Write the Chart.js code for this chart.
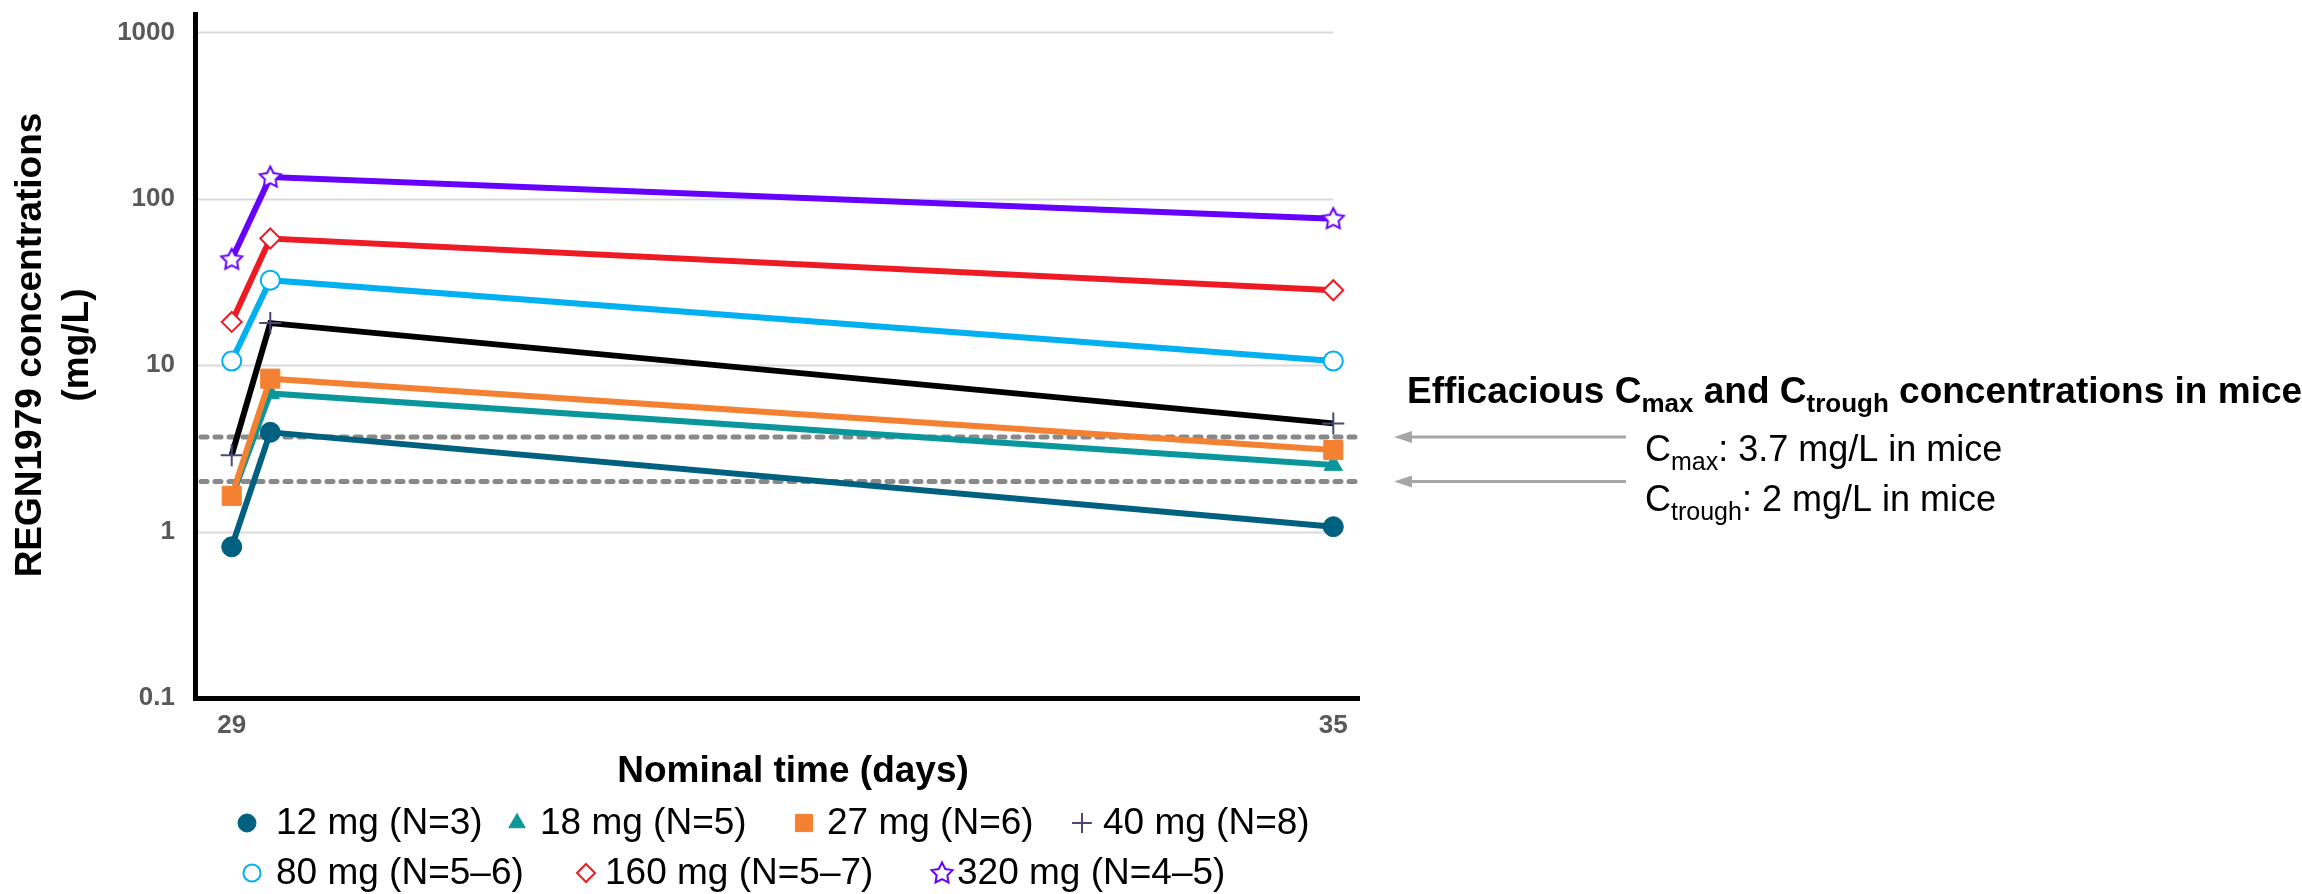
<!DOCTYPE html>
<html>
<head>
<meta charset="utf-8">
<title>REGN1979 concentrations</title>
<script src="https://cdn.jsdelivr.net/npm/chart.js@4.4.1/dist/chart.umd.min.js"></script>
<style>
  html, body { margin: 0; padding: 0; background: #fff; }
  canvas { display: block; }
</style>
</head>
<body>
<canvas id="pk-chart" width="2302" height="894"></canvas>
<script>
// Sampling days and axis ticks
const sampleDays = [29, 29.21, 35];
const dayTicks = [29, 35];
const concTicks = [0.1, 1, 10, 100, 1000];

// Mean concentrations (mg/L) per dose group
const doseLabels = ['12 mg (N=3)', '18 mg (N=5)', '27 mg (N=6)', '40 mg (N=8)',
                    '80 mg (N=5\u20136)', '160 mg (N=5\u20137)', '320 mg (N=4\u20135)'];
const conc12 = [0.81, 3.95, 1.07];
const conc18 = [1.6, 6.76, 2.51];
const conc27 = [1.64, 8.3, 3.09];
const conc40 = [2.88, 17.9, 4.47];
const conc80 = [10.6, 32.4, 10.6];
const conc160 = [18.2, 57.7, 28.2];
const conc320 = [43.3, 135, 76];

// Efficacious levels in mice (mg/L)
const cmaxMice = 3.7;
const ctroughMice = 2;

const FONT = '"Liberation Sans", Arial, Helvetica, sans-serif';

// open five-point star used for the 320 mg group
function makeStar(color) {
    const c = document.createElement('canvas');
    c.width = 28; c.height = 28;
    const g = c.getContext('2d');
    g.beginPath();
    for (let i = 0; i < 10; i++) {
        const r = i % 2 === 0 ? 11 : 5.6;
        const a = -Math.PI / 2 + i * Math.PI / 5;
        const px = 14 + r * Math.cos(a), py = 14.5 + r * Math.sin(a);
        i === 0 ? g.moveTo(px, py) : g.lineTo(px, py);
    }
    g.closePath();
    g.fillStyle = '#fff';
    g.fill();
    g.lineWidth = 2;
    g.strokeStyle = color;
    g.stroke();
    return c;
}

const toPoints = vals => sampleDays.map((d, i) => ({ x: d, y: vals[i] }));

const groups = [
    { data: conc12,  line: '#00607f', style: 'circle',   fill: '#00607f', edge: '#00607f', r: 10,   bw: 1, order: 1 },
    { data: conc18,  line: '#0a979c', style: 'triangle', fill: '#0a979c', edge: '#0a979c', r: 10.5, bw: 1, order: 3 },
    { data: conc27,  line: '#f48132', style: 'rect',     fill: '#f48132', edge: '#f48132', r: 13.5, bw: 1, order: 2 },
    { data: conc40,  line: '#000000', style: 'cross',    fill: '#4a4778', edge: '#4a4778', r: 11,   bw: 2, order: 4 },
    { data: conc80,  line: '#00b0f0', style: 'circle',   fill: '#ffffff', edge: '#00b0f0', r: 9.5,  bw: 2, order: 5 },
    { data: conc160, line: '#ed1c24', style: 'rectRot',  fill: '#ffffff', edge: '#ed1c24', r: 10,   bw: 2, order: 6 },
    { data: conc320, line: '#6600ff', style: makeStar('#6600ff'), fill: '#ffffff', edge: '#6600ff', r: 11, bw: 2, order: 7 }
];

const datasets = groups.map((g, i) => ({
    label: doseLabels[i],
    data: toPoints(g.data),
    borderColor: g.line,
    borderWidth: 6,
    pointStyle: g.style,
    pointRadius: g.r,
    pointBackgroundColor: g.fill,
    pointBorderColor: g.edge,
    pointBorderWidth: g.bw,
    tension: 0,
    order: g.order,
    clip: false
}));

// draws text with subscript parts, left to right from x on baseline y
function drawRich(ctx, parts, x, y, size, weight) {
    ctx.textAlign = 'left';
    ctx.textBaseline = 'alphabetic';
    parts.forEach(p => {
        const s = p.sub ? Math.round(size * 0.7) : size;
        ctx.font = `${weight} ${s}px ${FONT}`;
        ctx.fillText(p.t, x, p.sub ? y + size * 0.24 : y);
        x += ctx.measureText(p.t).width;
    });
}

const backdrop = {
    id: 'backdrop',
    beforeDatasetsDraw(chart) {
        const { ctx, chartArea, scales: { x, y } } = chart;
        const xEnd = x.getPixelForValue(dayTicks[dayTicks.length - 1]);
        ctx.save();
        // horizontal grid, stopping at the last sampling day
        ctx.strokeStyle = '#d9d9d9';
        ctx.lineWidth = 2;
        concTicks.slice(1).forEach(v => {
            const py = Math.round(y.getPixelForValue(v)) + 0.5;
            ctx.beginPath();
            ctx.moveTo(chartArea.left + 3, py);
            ctx.lineTo(xEnd, py);
            ctx.stroke();
        });
        // efficacious levels
        ctx.strokeStyle = '#898989';
        ctx.lineWidth = 5;
        ctx.lineCap = 'round';
        ctx.setLineDash([6, 8]);
        [cmaxMice, ctroughMice].forEach(v => {
            const py = y.getPixelForValue(v);
            ctx.beginPath();
            ctx.moveTo(chartArea.left + 6, py);
            ctx.lineTo(chartArea.right + 4, py);
            ctx.stroke();
        });
        ctx.restore();
    }
};

const annotations = {
    id: 'annotations',
    afterDraw(chart) {
        const { ctx, scales: { y } } = chart;
        ctx.save();
        ctx.fillStyle = '#000';

        // y axis title
        ctx.save();
        ctx.translate(31, 345);
        ctx.rotate(-Math.PI / 2);
        ctx.textAlign = 'center';
        ctx.textBaseline = 'middle';
        ctx.font = `bold 37px ${FONT}`;
        ctx.fillText('REGN1979 concentrations', 0, 0);
        ctx.fillText('(mg/L)', 0, 47);
        ctx.restore();

        // x axis title
        ctx.textAlign = 'center';
        ctx.textBaseline = 'middle';
        ctx.font = `bold 37px ${FONT}`;
        ctx.fillText('Nominal time (days)', 793, 772);

        // efficacious level notes and arrows
        drawRich(ctx, [
            { t: 'Efficacious C' }, { t: 'max', sub: true }, { t: ' and C' },
            { t: 'trough', sub: true }, { t: ' concentrations in mice' }
        ], 1407, 403, 37, 'bold');
        drawRich(ctx, [{ t: 'C' }, { t: 'max', sub: true }, { t: ': 3.7 mg/L in mice' }], 1645, 461, 36, 'normal');
        drawRich(ctx, [{ t: 'C' }, { t: 'trough', sub: true }, { t: ': 2 mg/L in mice' }], 1645, 511, 36, 'normal');

        ctx.strokeStyle = '#a6a6a6';
        ctx.fillStyle = '#a6a6a6';
        ctx.lineWidth = 3;
        [cmaxMice, ctroughMice].forEach(v => {
            const py = y.getPixelForValue(v);
            ctx.beginPath();
            ctx.moveTo(1626, py);
            ctx.lineTo(1405, py);
            ctx.stroke();
            ctx.beginPath();
            ctx.moveTo(1394, py);
            ctx.lineTo(1412, py - 6);
            ctx.lineTo(1412, py + 6);
            ctx.closePath();
            ctx.fill();
        });

        // legend
        const slots = [[247, 823, 276], [517, 823, 540], [804, 823, 827], [1082, 823, 1103],
                       [252, 873, 276], [586, 873, 605], [942, 873, 957]];
        const drawPoint = Chart.helpers && Chart.helpers.drawPoint;
        chart.data.datasets.forEach((ds, i) => {
            const [mx, my, tx] = slots[i];
            const g = groups[i];
            ctx.fillStyle = g.fill;
            ctx.strokeStyle = g.edge;
            ctx.lineWidth = g.bw;
            if (drawPoint) {
                drawPoint(ctx, { pointStyle: g.style, radius: g.r * 0.9, rotation: 0, borderWidth: g.bw }, mx, my);
            }
            ctx.fillStyle = '#000';
            ctx.font = `37px ${FONT}`;
            ctx.textAlign = 'left';
            ctx.textBaseline = 'middle';
            ctx.fillText(ds.label, tx, my + 1);
        });
        ctx.restore();
    }
};

new Chart(document.getElementById('pk-chart'), {
    type: 'line',
    data: { datasets },
    options: {
        responsive: false,
        animation: false,
        events: [],
        devicePixelRatio: 1,
        layout: { padding: { left: 0, top: 12, right: 943, bottom: 0 } },
        plugins: { legend: { display: false }, tooltip: { enabled: false } },
        scales: {
            x: {
                type: 'linear',
                min: 28.8,
                max: 35.14,
                afterFit: s => { s.height = 196; s.paddingLeft = 0; s.paddingRight = 0; },
                afterBuildTicks: s => { s.ticks = dayTicks.map(v => ({ value: v })); },
                grid: { display: false },
                border: { color: '#000', width: 5 },
                ticks: {
                    padding: 4,
                    color: '#595959',
                    font: { family: FONT, size: 26, weight: 'bold' },
                    callback: v => String(v)
                }
            },
            y: {
                type: 'logarithmic',
                min: 0.1,
                max: 1281,
                afterFit: s => { s.width = 195; s.paddingTop = 0; s.paddingBottom = 0; },
                afterBuildTicks: s => { s.ticks = concTicks.map(v => ({ value: v })); },
                grid: { display: false },
                border: { color: '#000', width: 5 },
                ticks: {
                    padding: 12,
                    color: '#595959',
                    font: { family: FONT, size: 26, weight: 'bold' },
                    callback: v => String(v)
                }
            }
        }
    },
    plugins: [backdrop, annotations]
});
</script>
</body>
</html>
